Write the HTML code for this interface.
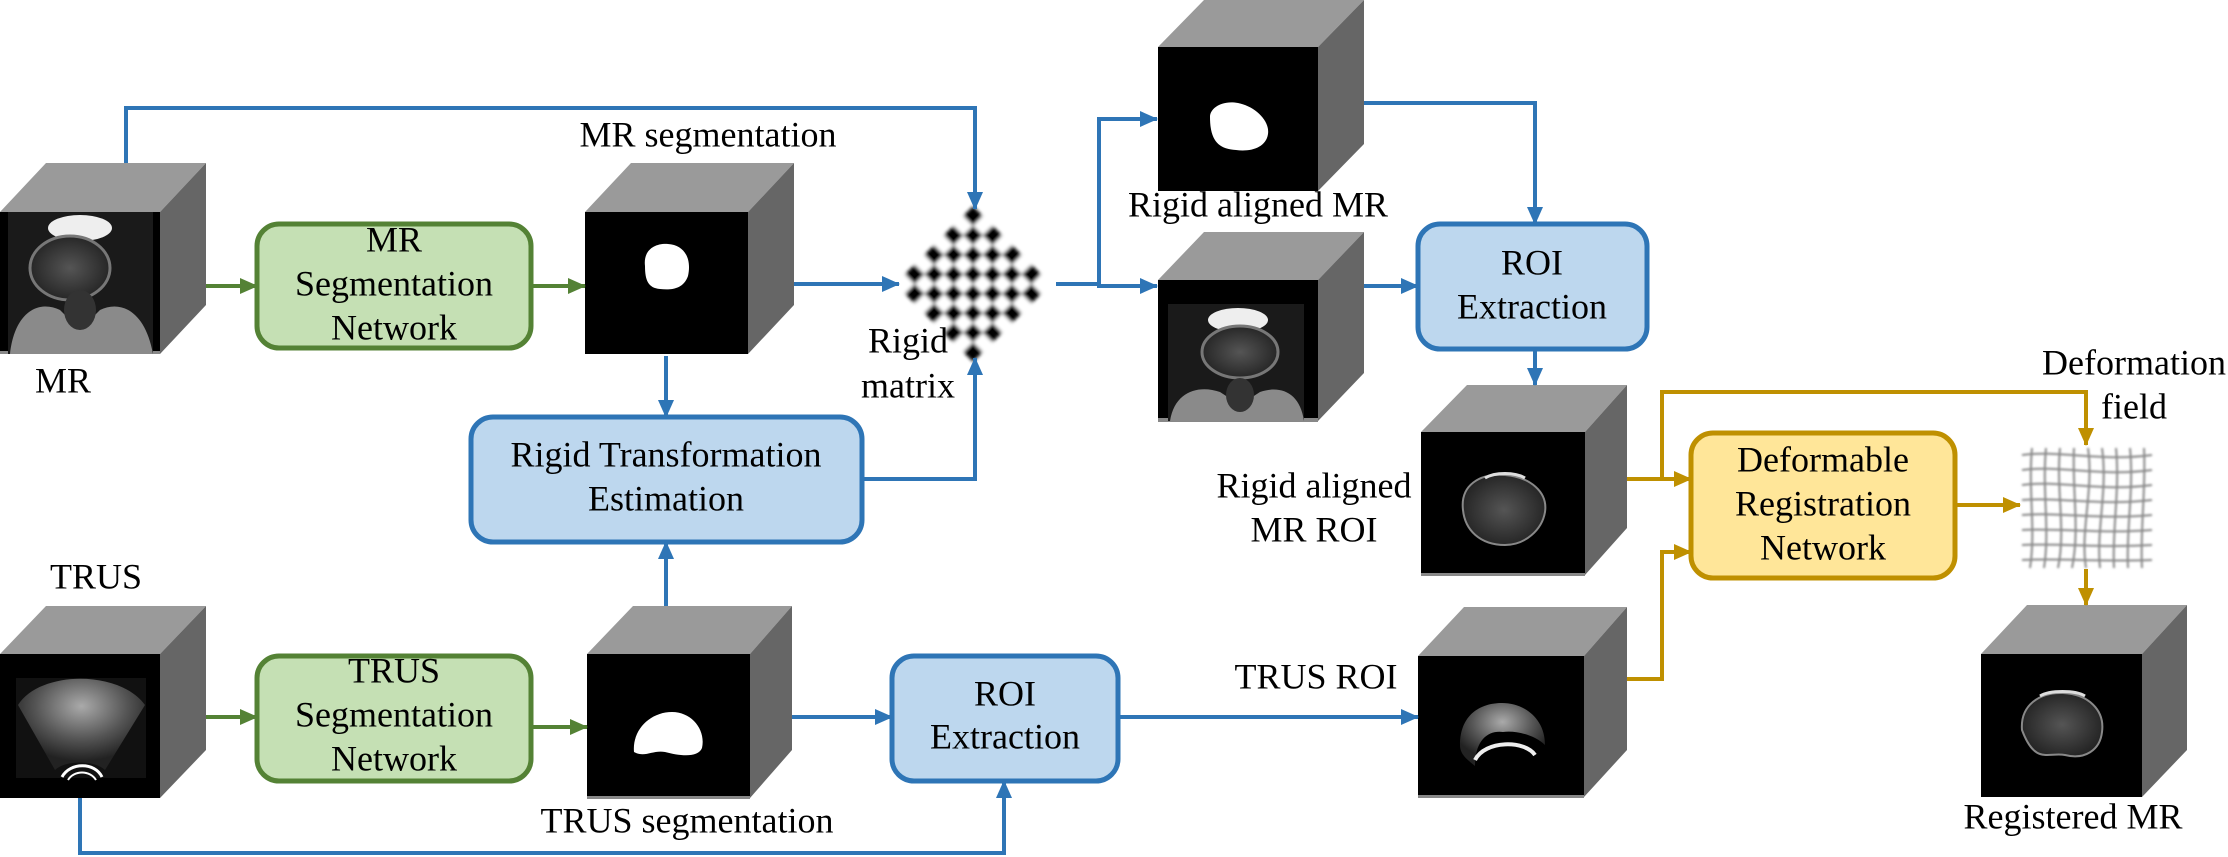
<!DOCTYPE html>
<html><head><meta charset="utf-8"><style>
html,body{margin:0;padding:0;background:#fff;}
svg{display:block;}
text{font-family:"Liberation Serif",serif;font-size:36px;fill:#000;text-anchor:middle;dominant-baseline:middle;}
</style></head><body>
<svg width="2228" height="857" viewBox="0 0 2228 857" xmlns="http://www.w3.org/2000/svg">
<defs>
<marker id="ab" markerWidth="18" markerHeight="16" refX="17" refY="8" orient="auto" markerUnits="userSpaceOnUse" viewBox="0 0 18 16"><path d="M0,0 L18,8 L0,16 z" fill="#2e75b6"/></marker>
<marker id="ag" markerWidth="18" markerHeight="16" refX="17" refY="8" orient="auto" markerUnits="userSpaceOnUse" viewBox="0 0 18 16"><path d="M0,0 L18,8 L0,16 z" fill="#548235"/></marker>
<marker id="ay" markerWidth="18" markerHeight="16" refX="17" refY="8" orient="auto" markerUnits="userSpaceOnUse" viewBox="0 0 18 16"><path d="M0,0 L18,8 L0,16 z" fill="#bf9000"/></marker>
<filter id="bl"><feGaussianBlur stdDeviation="1.8"/></filter>
<filter id="bl1"><feGaussianBlur stdDeviation="1"/></filter>
<radialGradient id="mrg" cx="50%" cy="50%" r="55%"><stop offset="0" stop-color="#555"/><stop offset="1" stop-color="#222"/></radialGradient>
<radialGradient id="usg" cx="50%" cy="30%" r="60%"><stop offset="0" stop-color="#aaa"/><stop offset="0.6" stop-color="#555"/><stop offset="1" stop-color="#222"/></radialGradient>
<pattern id="chk" x="0" y="0" width="27.5" height="27.5" patternUnits="userSpaceOnUse"><rect width="27.5" height="27.5" fill="#fff"/><rect width="13.75" height="13.75" fill="#000"/><rect x="13.75" y="13.75" width="13.75" height="13.75" fill="#000"/></pattern>
</defs>

<!-- cubes -->
<polygon points="0,212 46,163 206,163 160,212" fill="#9a9a9a"/>
<polygon points="160,212 206,163 206,305 160,354" fill="#666"/>
<rect x="0" y="212" width="160" height="142" fill="#000"/>
<rect x="0" y="351" width="160" height="3" fill="#888"/>
<polygon points="585,212 631,163 794,163 748,212" fill="#9a9a9a"/>
<polygon points="748,212 794,163 794,305 748,354" fill="#666"/>
<rect x="585" y="212" width="163" height="142" fill="#000"/>
<polygon points="0,654 46,606 206,606 160,654" fill="#9a9a9a"/>
<polygon points="160,654 206,606 206,750 160,798" fill="#666"/>
<rect x="0" y="654" width="160" height="144" fill="#000"/>
<polygon points="587,654 633,606 792,606 750,654" fill="#9a9a9a"/>
<polygon points="750,654 792,606 792,750 750,798" fill="#666"/>
<rect x="587" y="654" width="163" height="144" fill="#000"/>
<rect x="587" y="796" width="163" height="3" fill="#888"/>
<polygon points="1158,47 1204,0 1364,0 1318,47" fill="#9a9a9a"/>
<polygon points="1318,47 1364,0 1364,144 1318,191" fill="#666"/>
<rect x="1158" y="47" width="160" height="144" fill="#000"/>
<polygon points="1158,280 1204,232 1364,232 1318,280" fill="#9a9a9a"/>
<polygon points="1318,280 1364,232 1364,373 1318,421" fill="#666"/>
<rect x="1158" y="280" width="160" height="141" fill="#000"/>
<rect x="1158" y="418" width="160" height="4" fill="#888"/>
<polygon points="1421,432 1467,385 1627,385 1585,432" fill="#9a9a9a"/>
<polygon points="1585,432 1627,385 1627,528 1585,575" fill="#666"/>
<rect x="1421" y="432" width="164" height="143" fill="#000"/>
<rect x="1421" y="573" width="164" height="3" fill="#888"/>
<polygon points="1418,656 1464,607 1627,607 1584,656" fill="#9a9a9a"/>
<polygon points="1584,656 1627,607 1627,750 1584,797" fill="#666"/>
<rect x="1418" y="656" width="166" height="141" fill="#000"/>
<rect x="1418" y="795" width="166" height="3" fill="#888"/>
<polygon points="1981,654 2027,605 2187,605 2142,654" fill="#9a9a9a"/>
<polygon points="2142,654 2187,605 2187,750 2142,797" fill="#666"/>
<rect x="1981" y="654" width="161" height="143" fill="#000"/>

<!-- images -->
<g>
<rect x="8" y="212" width="145" height="142" fill="#1a1a1a"/>
<ellipse cx="80" cy="228" rx="32" ry="13" fill="#eee"/>
<ellipse cx="70" cy="268" rx="40" ry="32" fill="url(#mrg)" stroke="#777" stroke-width="3"/>
<path d="M10,354 C15,310 40,300 60,310 L80,330 L100,310 C120,300 145,310 153,354 Z" fill="#8a8a8a"/>
<ellipse cx="80" cy="310" rx="16" ry="20" fill="#333"/>
</g>
<g>
<rect x="1168" y="304" width="136" height="117" fill="#1a1a1a"/>
<ellipse cx="1238" cy="320" rx="30" ry="12" fill="#eee"/>
<ellipse cx="1240" cy="352" rx="38" ry="26" fill="url(#mrg)" stroke="#777" stroke-width="3"/>
<path d="M1170,421 C1175,390 1200,385 1220,392 L1240,405 L1260,392 C1280,385 1300,392 1304,421 Z" fill="#8a8a8a"/>
<ellipse cx="1240" cy="395" rx="14" ry="17" fill="#333"/>
</g>
<path d="M645,266 C643,250 655,243 668,244 C684,245 692,258 688,276 C683,290 670,290 660,289 C648,288 645,280 645,266 Z" fill="#fff"/>
<path d="M1210,117 C1210,108 1222,100 1238,103 C1254,106 1270,120 1268,134 C1266,148 1250,152 1236,150 C1218,149 1210,140 1210,117 Z" fill="#fff"/>
<path d="M634,752 C632,730 650,712 672,712 C692,712 706,730 702,748 C698,758 680,756 665,752 C652,750 645,758 634,752 Z" fill="#fff"/>
<g>
<rect x="16" y="678" width="130" height="100" fill="#111"/>
<path d="M18,705 C40,670 120,670 145,705 L105,770 C95,760 65,760 55,770 Z" fill="url(#usg)"/>
<path d="M62,777 C70,762 95,762 102,777" stroke="#fff" stroke-width="3" fill="none"/>
<path d="M68,780 C74,770 90,770 96,780" stroke="#fff" stroke-width="2" fill="none"/>
</g>
<path d="M1463,510 C1460,485 1480,473 1505,475 C1530,477 1548,492 1545,512 C1542,530 1525,545 1505,545 C1480,545 1465,530 1463,510 Z" fill="url(#mrg)" stroke="#888" stroke-width="2"/>
<path d="M1485,478 C1495,472 1515,472 1525,478" stroke="#ddd" stroke-width="3" fill="none"/>
<path d="M1460,745 C1460,715 1480,703 1502,703 C1524,703 1545,718 1545,745 C1535,735 1515,730 1503,732 C1490,730 1475,738 1475,766 C1468,760 1460,755 1460,745 Z" fill="url(#usg)"/>
<path d="M1475,760 C1485,740 1525,740 1535,755" stroke="#eee" stroke-width="4" fill="none"/>
<path d="M2022,730 C2020,705 2040,692 2063,693 C2088,694 2105,710 2102,732 C2100,750 2085,760 2065,755 C2048,752 2035,765 2022,730 Z" fill="url(#mrg)" stroke="#888" stroke-width="2"/>
<path d="M2040,696 C2050,690 2075,690 2085,696" stroke="#ddd" stroke-width="3" fill="none"/>

<!-- checkerboard -->
<g transform="translate(973,284) rotate(45)" filter="url(#bl)">
<rect x="-55" y="-55" width="110" height="110" fill="url(#chk)" transform="translate(0,0)"/>
</g>

<!-- deformation grid -->
<g stroke="#888" stroke-width="2" fill="none" filter="url(#bl1)">
<path d="M2022,455 C2060,450 2100,462 2152,455"/>
<path d="M2022,470 C2060,465 2100,477 2152,470"/>
<path d="M2022,485 C2060,480 2100,492 2152,485"/>
<path d="M2022,500 C2060,497 2100,506 2152,500"/>
<path d="M2022,515 C2060,512 2100,520 2152,515"/>
<path d="M2022,530 C2060,528 2100,534 2152,530"/>
<path d="M2022,545 C2060,543 2100,548 2152,545"/>
<path d="M2022,560 C2060,558 2100,562 2152,560"/>
<path d="M2032,448 C2028,490 2036,530 2030,568"/>
<path d="M2046,448 C2042,490 2050,530 2044,568"/>
<path d="M2060,448 C2056,490 2066,530 2058,568"/>
<path d="M2074,448 C2072,490 2080,530 2072,568"/>
<path d="M2088,448 C2094,490 2080,530 2086,568"/>
<path d="M2102,448 C2108,490 2096,530 2100,568"/>
<path d="M2116,448 C2120,490 2112,530 2114,568"/>
<path d="M2130,448 C2134,490 2126,530 2128,568"/>
<path d="M2144,448 C2146,490 2140,530 2142,568"/>
</g>

<!-- boxes -->
<rect x="257" y="224" width="274" height="124" rx="22" fill="#c5e0b4" stroke="#548235" stroke-width="5"/>
<rect x="257" y="656" width="274" height="125" rx="22" fill="#c5e0b4" stroke="#548235" stroke-width="5"/>
<rect x="471" y="417" width="391" height="125" rx="22" fill="#bdd7ee" stroke="#2e75b6" stroke-width="5"/>
<rect x="892" y="656" width="226" height="125" rx="22" fill="#bdd7ee" stroke="#2e75b6" stroke-width="5"/>
<rect x="1418" y="224" width="229" height="125" rx="22" fill="#bdd7ee" stroke="#2e75b6" stroke-width="5"/>
<rect x="1691" y="433" width="264" height="145" rx="22" fill="#ffe699" stroke="#bf9000" stroke-width="5"/>

<!-- connectors -->
<g stroke="#2e75b6" stroke-width="4" fill="none">
<path d="M126,163 V108 H975 V209" marker-end="url(#ab)"/>
<path d="M794,284 H899" marker-end="url(#ab)"/>
<path d="M1056,284 H1099 V119 H1157" marker-end="url(#ab)"/>
<path d="M1099,284 V286 H1157" marker-end="url(#ab)"/>
<path d="M666,356 V417" marker-end="url(#ab)"/>
<path d="M862,479 H975 V358" marker-end="url(#ab)"/>
<path d="M666,606 V542" marker-end="url(#ab)"/>
<path d="M792,717 H892" marker-end="url(#ab)"/>
<path d="M80,798 V853 H1004 V781" marker-end="url(#ab)"/>
<path d="M1364,103 H1535 V224" marker-end="url(#ab)"/>
<path d="M1364,286 H1418" marker-end="url(#ab)"/>
<path d="M1535,349 V385" marker-end="url(#ab)"/>
<path d="M1118,717 H1418" marker-end="url(#ab)"/>
</g>
<g stroke="#548235" stroke-width="4" fill="none">
<path d="M206,286 H257" marker-end="url(#ag)"/>
<path d="M531,286 H585" marker-end="url(#ag)"/>
<path d="M206,717 H257" marker-end="url(#ag)"/>
<path d="M531,727 H587" marker-end="url(#ag)"/>
</g>
<g stroke="#bf9000" stroke-width="4" fill="none">
<path d="M1627,479 H1691" marker-end="url(#ay)"/>
<path d="M1662,479 V392 H2086 V445" marker-end="url(#ay)"/>
<path d="M1627,679 H1662 V552 H1691" marker-end="url(#ay)"/>
<path d="M1955,505 H2020" marker-end="url(#ay)"/>
<path d="M2086,569 V605" marker-end="url(#ay)"/>
</g>

<!-- labels -->
<text x="63" y="384">MR</text>
<text x="708" y="138">MR segmentation</text>
<text x="394" y="243">MR</text>
<text x="394" y="287">Segmentation</text>
<text x="394" y="331">Network</text>
<text x="908" y="344">Rigid</text>
<text x="908" y="389">matrix</text>
<text x="666" y="458">Rigid Transformation</text>
<text x="666" y="502">Estimation</text>
<text x="96" y="580">TRUS</text>
<text x="394" y="674">TRUS</text>
<text x="394" y="718">Segmentation</text>
<text x="394" y="762">Network</text>
<text x="687" y="824">TRUS segmentation</text>
<text x="1005" y="697">ROI</text>
<text x="1005" y="740">Extraction</text>
<text x="1258" y="208">Rigid aligned MR</text>
<text x="1532" y="266">ROI</text>
<text x="1532" y="310">Extraction</text>
<text x="1314" y="489">Rigid aligned</text>
<text x="1314" y="533">MR ROI</text>
<text x="1316" y="680">TRUS ROI</text>
<text x="1823" y="463">Deformable</text>
<text x="1823" y="507">Registration</text>
<text x="1823" y="551">Network</text>
<text x="2134" y="366">Deformation</text>
<text x="2134" y="410">field</text>
<text x="2073" y="820">Registered MR</text>
</svg>
</body></html>
